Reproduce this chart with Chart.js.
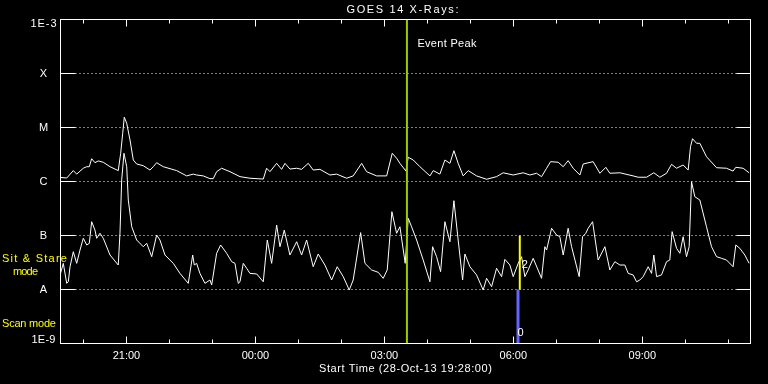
<!DOCTYPE html>
<html><head><meta charset="utf-8">
<script src="https://cdn.jsdelivr.net/npm/chart.js@4"></script>
<style>html,body{margin:0;padding:0;background:#000;overflow:hidden}canvas{display:block}</style>
</head><body>
<canvas id="c" width="768" height="384"></canvas>
<script>
const titleText = 'GOES 14 X-Rays:';
const startTimeText = 'Start Time (28-Oct-13 19:28:00)';

// time axis: minutes after start time 28-Oct-13 19:28:00
const axisMinutes = [0, 963];
const tickMinutes = [32, 92, 152, 212, 272, 332, 392, 452, 512, 572, 632, 692, 752, 812, 872, 932];
const tickLabels  = ['', '21:00', '', '', '00:00', '', '', '03:00', '', '', '06:00', '', '', '09:00', '', ''];

// flux levels (W/m^2)
const levelValues = [1e-3, 1e-4, 1e-5, 1e-6, 1e-7, 1e-8, 1e-9];
const levelLabels = ['1E-3', 'X', 'M', 'C', 'B', 'A', '1E-9'];

// long channel (1-8 A)
const longTimes = [0,8.7,17.9,22.6,31.8,36.6,40.2,43.5,48.1,52.7,59.7,69.1,80.6,84.0,86.8,89.0,92.4,97.0,101.6,106.3,115.5,124.9,129.5,134.2,143.4,162.1,176.1,185.3,190.0,199.2,208.6,213.2,217.9,224.9,236.5,250.5,264.4,283.0,287.7,292.3,301.7,308.6,313.3,320.2,329.6,336.5,345.8,352.7,362.1,376.0,385.4,399.3,408.5,420.3,427.2,441.2,455.2,463.0,469.1,473.7,482.1,485.3,492.3,501.6,515.6,520.2,529.5,536.5,543.5,549.1,555.0,562.0,569.0,580.7,594.7,608.6,617.8,631.8,645.7,655.1,664.4,671.4,678.4,684.0,694.6,701.6,708.5,715.5,724.9,729.5,743.4,752.8,761.1,766.7,780.7,799.2,806.2,817.9,828.1,836.5,845.8,852.8,859.8,869.0,876.0,879.3,882.1,887.7,892.3,901.6,915.6,929.5,938.7,942.5,952.7,961.1];
const longFlux = [1.19e-6,1.16e-6,1.59e-6,1.37e-6,1.76e-6,1.88e-6,1.88e-6,2.64e-6,2.23e-6,2.40e-6,2.27e-6,1.88e-6,1.59e-6,3.33e-6,7.8e-6,1.55e-5,1.20e-5,5.87e-6,2.50e-6,2.11e-6,1.96e-6,1.63e-6,1.88e-6,2.23e-6,1.88e-6,1.59e-6,1.27e-6,1.37e-6,1.32e-6,1.27e-6,1.13e-6,1.13e-6,1.52e-6,1.76e-6,1.52e-6,1.23e-6,1.15e-6,1.11e-6,1.76e-6,1.52e-6,2.17e-6,1.68e-6,2.17e-6,1.70e-6,1.76e-6,1.68e-6,2.17e-6,1.63e-6,1.68e-6,1.32e-6,1.37e-6,1.15e-6,1.27e-6,2.17e-6,1.52e-6,1.27e-6,1.27e-6,3.33e-6,2.69e-6,2.17e-6,1.56e-6,2.81e-6,2.50e-6,1.88e-6,1.27e-6,1.59e-6,1.37e-6,2.50e-6,2.17e-6,3.72e-6,2.17e-6,1.27e-6,1.59e-6,1.27e-6,1.10e-6,1.23e-6,1.45e-6,1.32e-6,1.45e-6,1.32e-6,1.42e-6,1.23e-6,1.76e-6,2.33e-6,2.27e-6,1.88e-6,2.43e-6,1.76e-6,1.32e-6,2.11e-6,2.33e-6,1.42e-6,1.83e-6,1.42e-6,1.45e-6,1.27e-6,1.20e-6,1.20e-6,1.45e-6,1.20e-6,1.42e-6,2.08e-6,1.76e-6,2.02e-6,1.63e-6,4.41e-6,6.20e-6,5.10e-6,5.10e-6,2.88e-6,1.80e-6,1.76e-6,1.56e-6,1.83e-6,1.76e-6,1.45e-6];

// short channel (0.5-4 A)
const shortTimes = [0,3.9,8.7,10.9,13.3,17.9,22.6,27.2,31.8,36.6,40.2,43.5,48.1,50.5,55.1,59.7,69.1,80.6,83.0,85.4,88.6,92.4,94.6,99.4,106.3,115.5,120.3,127.3,134.2,138.8,145.8,157.4,166.7,178.3,184.5,186.7,190.0,194.6,201.6,208.6,211.0,217.9,223.5,231.9,238.9,243.5,248.1,250.5,255.1,259.8,264.4,273.8,283.0,288.6,294.7,301.7,306.3,312.3,320.2,329.6,336.5,343.5,352.7,359.7,369.0,378.4,386.2,394.6,403.0,408.5,418.9,424.9,434.2,443.4,450.4,456.0,462.5,469.1,473.7,481.1,485.3,490.0,497.0,506.2,515.6,519.3,524.9,530.5,536.5,543.5,549.1,555.0,561.2,564.4,571.4,580.7,589.9,594.7,601.7,608.6,615.6,620.2,627.2,631.8,638.8,643.5,648.1,652.7,659.7,671.4,676.0,678.4,685.4,692.3,696.9,701.6,708.5,713.3,723.9,728.6,733.2,736.4,742.6,750.4,759.8,766.7,773.7,780.7,787.6,792.3,799.2,804.0,808.6,813.2,820.2,824.9,828.1,831.9,838.8,845.8,850.4,853.6,859.8,864.4,869.0,873.7,877.4,880.7,885.3,892.3,901.6,908.6,915.6,922.6,929.5,938.7,942.5,948.1,955.1,961.1];
const shortFlux = [1.99e-8,3.05e-8,1.30e-8,1.39e-8,2.64e-8,5.01e-8,3.05e-8,5.38e-8,8.87e-8,6.67e-8,7.17e-8,1.80e-7,1.26e-7,8.87e-8,1.10e-7,8.87e-8,4.35e-8,2.84e-8,1.10e-7,1.07e-6,3.33e-6,1.88e-6,4.54e-7,1.45e-7,8.25e-8,6.20e-8,7.17e-8,4.05e-8,1.02e-7,8.25e-8,4.35e-8,3.05e-8,1.99e-8,1.30e-8,4.35e-8,2.84e-8,3.05e-8,1.99e-8,1.30e-8,1.50e-8,1.21e-8,4.68e-8,6.67e-8,4.68e-8,3.27e-8,3.05e-8,1.30e-8,1.39e-8,3.05e-8,2.47e-8,1.99e-8,1.94e-8,1.39e-8,8.25e-8,3.05e-8,1.56e-7,6.20e-8,1.26e-7,4.35e-8,7.67e-8,4.35e-8,8.25e-8,2.64e-8,4.54e-8,2.84e-8,1.50e-8,2.64e-8,1.73e-8,9.8e-9,1.50e-8,1.13e-7,3.05e-8,2.30e-8,2.08e-8,1.61e-8,2.30e-8,2.76e-7,1.10e-7,1.45e-7,3.05e-8,2.08e-7,1.45e-7,8.25e-8,3.52e-8,1.39e-8,6.20e-8,4.05e-8,2.14e-8,1.80e-7,7.67e-8,4.41e-7,8.25e-8,1.50e-8,4.54e-8,2.64e-8,1.86e-8,9.8e-9,1.61e-8,1.13e-8,2.47e-8,1.73e-8,3.62e-8,2.84e-8,1.73e-8,3.05e-8,4.05e-8,1.73e-8,2.30e-8,3.78e-8,1.61e-8,6.20e-8,5.38e-8,1.36e-7,1.02e-7,9.5e-8,4.35e-8,1.36e-7,6.20e-8,1.73e-8,9.5e-8,1.10e-7,1.36e-7,1.80e-7,3.52e-8,6.20e-8,2.30e-8,3.27e-8,2.84e-8,2.84e-8,1.99e-8,1.86e-8,1.39e-8,1.50e-8,1.73e-8,2.64e-8,1.99e-8,4.35e-8,1.73e-8,1.86e-8,3.27e-8,3.52e-8,1.18e-7,5.79e-8,4.68e-8,9.5e-8,4.05e-8,6.20e-8,9.9e-7,5.23e-7,4.54e-7,1.45e-7,6.20e-8,4.05e-8,3.78e-8,3.52e-8,2.64e-8,6.67e-8,5.79e-8,4.35e-8,3.05e-8];

// markers
const eventPeakLabel = 'Event Peak';
const eventPeakTime = 483.5;
const sitStareTime = 641;
const sitStareRange = [1e-7, 1e-8];
const sitStareLabel = '2';
const scanTime = 638.5;
const scanRange = [1e-8, 1e-9];
const scanLabel = '0';
const modeLabels = ['Sit & Stare', 'mode', 'Scan mode'];

const FONT = '11px "Liberation Sans", Arial, sans-serif';

function pts(t, v) { return t.map((x, i) => ({x: x, y: v[i]})); }

// draw text spread to a given ink width (mimics the wide vector font)
function fitText(c, text, x, y, align, w) {
  c.save();
  if ('letterSpacing' in c) c.letterSpacing = '0px';
  const m = c.measureText(text).width;
  if (!w || text.length < 2) {
    c.textAlign = align; c.fillText(text, x, y); c.restore(); return;
  }
  let left = align === 'center' ? x - w / 2 : (align === 'right' ? x - w : x);
  c.textAlign = 'left';
  if ('letterSpacing' in c) {
    const sp = (w - m) / (text.length - 1);
    c.letterSpacing = sp.toFixed(2) + 'px';
    c.fillText(text, left, y);
  } else {
    c.translate(left, y); c.scale(w / m, 1); c.fillText(text, 0, 0);
  }
  c.restore();
}

const decor = {
  id: 'decor',
  beforeDraw(chart) {
    const c = chart.ctx;
    c.save(); c.fillStyle = '#000'; c.fillRect(0, 0, chart.width, chart.height); c.restore();
  },
  beforeDatasetsDraw(chart) {
    const c = chart.ctx, a = chart.chartArea, ys = chart.scales.y;
    c.save();
    c.strokeStyle = '#fff'; c.lineWidth = 1; c.setLineDash([1, 3]);
    levelValues.slice(1, -1).forEach(v => {
      const y = Math.floor(ys.getPixelForValue(v)) + 0.5;
      c.beginPath(); c.moveTo(a.left + 15, y); c.lineTo(a.right - 14, y); c.stroke();
    });
    c.restore();
  },
  afterDatasetsDraw(chart) {
    const c = chart.ctx, a = chart.chartArea, xs = chart.scales.x, ys = chart.scales.y;
    c.save();
    c.strokeStyle = '#fff'; c.lineWidth = 1; c.setLineDash([]);
    const L = Math.floor(a.left) + 0.5, R = Math.floor(a.right) + 0.5, T = Math.floor(a.top) + 0.5, B = Math.floor(a.bottom) + 0.5;
    c.strokeRect(L, T, R - L, B - T);
    levelValues.slice(1, -1).forEach(v => {
      const y = Math.floor(ys.getPixelForValue(v)) + 0.5;
      c.beginPath(); c.moveTo(L, y); c.lineTo(L + 15, y); c.moveTo(R, y); c.lineTo(R - 14, y); c.stroke();
    });
    tickMinutes.forEach((m, i) => {
      const x = Math.floor(xs.getPixelForValue(m)) + 0.5;
      const len = tickLabels[i] ? 7 : 4;
      c.beginPath(); c.moveTo(x, B); c.lineTo(x, B - len); c.moveTo(x, T); c.lineTo(x, T + len); c.stroke();
    });
    c.font = FONT; c.fillStyle = '#fff'; c.textBaseline = 'middle';
    levelValues.forEach((v, i) => {
      let y = ys.getPixelForValue(v);
      let w = 0;
      if (i === 0) { y += 4; w = 26; } else if (i === levelValues.length - 1) { y -= 4; w = 24; }
      fitText(c, levelLabels[i], 43.5, y, 'center', w);
    });
    tickMinutes.forEach((m, i) => {
      if (tickLabels[i]) fitText(c, tickLabels[i], xs.getPixelForValue(m), a.bottom + 12, 'center', 0);
    });
    fitText(c, startTimeText, (a.left + a.right) / 2, a.bottom + 25, 'center', 173);
    fitText(c, titleText, (a.left + a.right) / 2 - 3, 10, 'center', 112);
    fitText(c, eventPeakLabel, xs.getPixelForValue(eventPeakTime) + 10.5, a.top + 24, 'left', 59);
    fitText(c, sitStareLabel, xs.getPixelForValue(sitStareTime) + 2, ys.getPixelForValue(3e-8) + 1, 'left', 0);
    fitText(c, scanLabel, xs.getPixelForValue(scanTime) - 0.5, ys.getPixelForValue(1e-9) - 11, 'left', 0);
    c.fillStyle = '#ffff00';
    fitText(c, modeLabels[0], 2, ys.getPixelForValue(1e-7) + 23, 'left', 65);
    fitText(c, modeLabels[1], 13, ys.getPixelForValue(1e-7) + 36, 'left', 25);
    fitText(c, modeLabels[2], 2, ys.getPixelForValue(1e-9) - 20, 'left', 54);
    c.restore();
  }
};

new Chart(document.getElementById('c'), {
  type: 'line',
  data: {
    datasets: [
      { label: 'Event Peak', data: pts([eventPeakTime, eventPeakTime], [levelValues[0], levelValues[6]]), borderColor: '#9acd00', borderWidth: 2 },
      { label: 'Sit & Stare', data: pts([sitStareTime, sitStareTime], sitStareRange), borderColor: '#ffff00', borderWidth: 2 },
      { label: 'Scan', data: pts([scanTime, scanTime], scanRange), borderColor: '#6464ff', borderWidth: 3 },
      { label: 'Long', data: pts(longTimes, longFlux), borderColor: '#fff', borderWidth: 1 },
      { label: 'Short', data: pts(shortTimes, shortFlux), borderColor: '#fff', borderWidth: 1 }
    ]
  },
  options: {
    responsive: false, animation: false, devicePixelRatio: 1,
    layout: { padding: { left: 60.5, right: 17.5, top: 19.5, bottom: 40.5 } },
    elements: { point: { radius: 0 }, line: { tension: 0, borderCapStyle: 'butt' } },
    plugins: { legend: { display: false }, tooltip: { enabled: false }, title: { display: false } },
    scales: {
      x: { type: 'linear', display: false, min: axisMinutes[0], max: axisMinutes[1] },
      y: { type: 'logarithmic', display: false, min: levelValues[6], max: levelValues[0] }
    }
  },
  plugins: [decor]
});
</script>
</body></html>
